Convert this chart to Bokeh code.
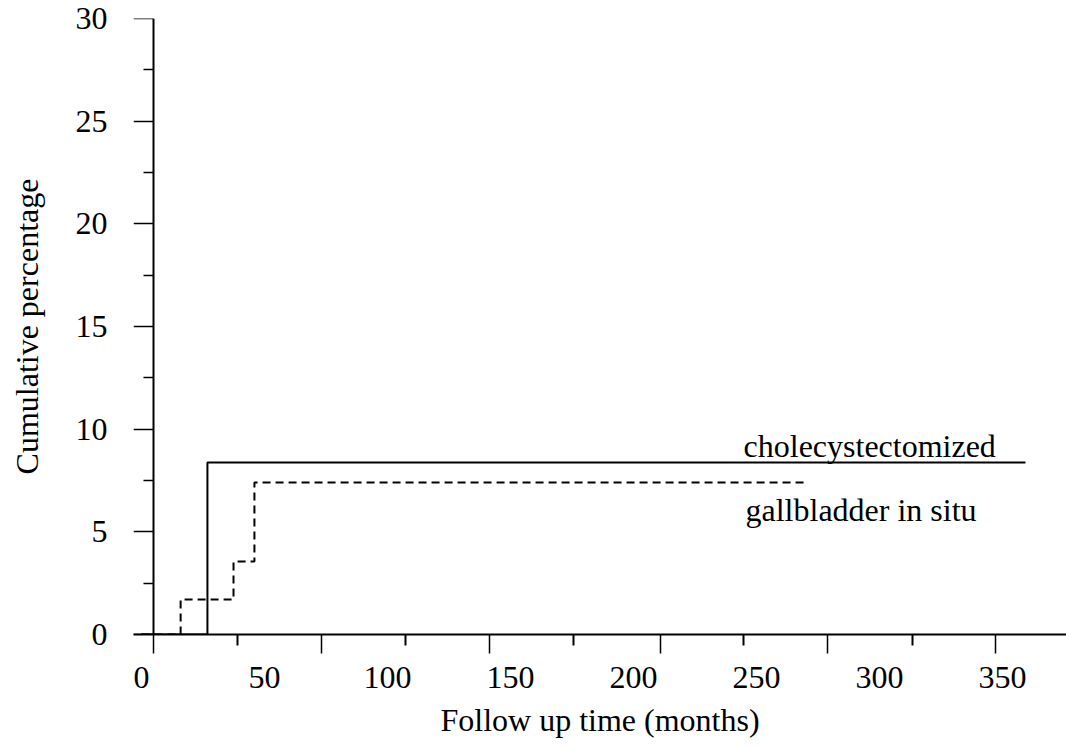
from bokeh.plotting import figure
from bokeh.models import (Range1d, FixedTicker, CustomJSTickFormatter, Label,
                          LinearAxis)
from bokeh.embed import file_html
from bokeh.resources import INLINE

# ---- data (months, cumulative percentage) ----
chole_time = [0, 26.8, 359.3]
chole_pct = [0, 8.38, 8.38]
insitu_time = [0, 15.9, 37.4, 45.9, 270.7]
insitu_pct = [0, 1.70, 3.55, 7.40, 7.40]

x_tick_labels = [0, 50, 100, 150, 200, 250, 300, 350]
y_ticks = [0, 5, 10, 15, 20, 25, 30]
y_minor = [2.5, 7.5, 12.5, 17.5, 22.5, 27.5]
# tick marks of the original x axis (not aligned with its labels)
x_axis_origin = 4.878
x_major_marks = [4.9, 73.2, 141.5, 211.0, 278.9, 347.2]
x_minor_marks = [39.0, 107.3, 175.6, 244.7, 313.4]

FONT = "Liberation Serif"
FS = "32px"

p = figure(frame_width=933, frame_height=616,
           min_border_left=133, min_border_right=0,
           min_border_top=18, min_border_bottom=110,
           x_range=Range1d(-3.251, 375.97), y_range=Range1d(0, 30),
           y_axis_location=None,
           output_backend="svg", toolbar_location=None,
           background_fill_color="white", border_fill_color="white")
p.outline_line_color = None
p.grid.visible = False

# lines
p.step(chole_time, chole_pct, mode="after", line_color="black", line_width=2)
p.step(insitu_time, insitu_pct, mode="after", line_color="black",
       line_width=2, line_dash="8 5")

# x axis: tick marks only
xa = p.xaxis[0]
xa.ticker = FixedTicker(ticks=x_major_marks, minor_ticks=x_minor_marks)
xa.formatter = CustomJSTickFormatter(code="return ''")
xa.major_tick_out = 19
xa.major_tick_in = 0
xa.minor_tick_out = 11
xa.minor_tick_in = 0
xa.axis_line_width = 2
xa.major_tick_line_width = 1.5
xa.minor_tick_line_width = 2
xa.axis_line_color = "black"
xa.major_tick_line_color = "black"
xa.minor_tick_line_color = "black"
xa.major_label_text_font_size = "1px"
xa.major_label_standoff = 0

# x axis: labels (offset from the tick marks as in the original)
xl = LinearAxis(ticker=FixedTicker(ticks=x_tick_labels, minor_ticks=[]),
                axis_line_color=None, major_tick_line_color=None,
                minor_tick_line_color=None, major_tick_out=0, major_tick_in=0,
                minor_tick_out=0, minor_tick_in=0,
                major_label_text_font=FONT, major_label_text_font_size=FS,
                major_label_text_color="black", major_label_standoff=13,
                axis_label="Follow up time (months)",
                axis_label_text_font=FONT, axis_label_text_font_size=FS,
                axis_label_text_font_style="normal",
                axis_label_text_color="black", axis_label_standoff=11)
p.add_layout(xl, "below")

# y axis line and ticks at the x origin
ya = LinearAxis(fixed_location=x_axis_origin,
                ticker=FixedTicker(ticks=y_ticks, minor_ticks=y_minor),
                formatter=CustomJSTickFormatter(code="return ''"))
ya.major_tick_out = 20
ya.major_tick_in = 0
ya.minor_tick_out = 10
ya.minor_tick_in = 0
ya.axis_line_width = 2
ya.major_tick_line_width = 1.5
ya.minor_tick_line_width = 1.5
ya.axis_line_color = "black"
ya.major_tick_line_color = "black"
ya.minor_tick_line_color = "black"
ya.major_label_text_font_size = "1px"
p.add_layout(ya, "left")

# y axis labels and title
yl = LinearAxis(ticker=FixedTicker(ticks=y_ticks, minor_ticks=[]),
                axis_line_color=None, major_tick_line_color=None,
                minor_tick_line_color=None, major_tick_out=0, major_tick_in=0,
                minor_tick_out=0, minor_tick_in=0,
                major_label_text_font=FONT, major_label_text_font_size=FS,
                major_label_text_color="black", major_label_standoff=26,
                axis_label="Cumulative percentage",
                axis_label_text_font=FONT, axis_label_text_font_size=FS,
                axis_label_text_font_style="normal",
                axis_label_text_color="black", axis_label_standoff=28)
p.add_layout(yl, "left")

# curve annotations
p.add_layout(Label(x=244.7, y=9.16, text="cholecystectomized",
                   text_align="left", text_baseline="alphabetic",
                   text_font=FONT, text_font_size=FS, text_color="black"))
p.add_layout(Label(x=245.5, y=6.04, text="gallbladder in situ",
                   text_align="left", text_baseline="alphabetic",
                   text_font=FONT, text_font_size=FS, text_color="black"))

open("out.html", "w").write(file_html(p, INLINE))
